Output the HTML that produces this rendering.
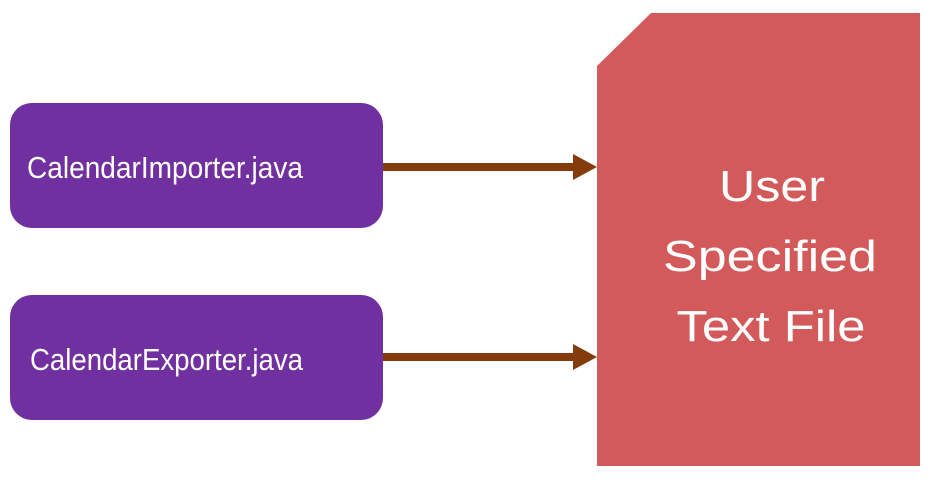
<!DOCTYPE html>
<html><head><style>html,body{margin:0;padding:0;background:#fff;}svg{display:block}</style></head>
<body>
<svg width="932" height="488" viewBox="0 0 932 488" xmlns="http://www.w3.org/2000/svg">
<rect x="10" y="103" width="373" height="125" rx="22" fill="#7030A0"/>
<rect x="10" y="295" width="373" height="125" rx="22" fill="#7030A0"/>
<polygon points="651,13 920,13 920,466 597,466 597,66" fill="#D35A5B"/>
<g fill="#843C0C">
<rect x="383" y="163" width="194" height="8"/>
<polygon points="573,154 597,167 573,180"/>
<rect x="383" y="353" width="194" height="8"/>
<polygon points="573,344 597,357 573,370"/>
</g>
<g font-family="'Liberation Sans', sans-serif" fill="#fff">
<text x="27" y="178" font-size="31" textLength="276" lengthAdjust="spacingAndGlyphs">CalendarImporter.java</text>
<text x="30" y="370" font-size="31" textLength="273" lengthAdjust="spacingAndGlyphs">CalendarExporter.java</text>
<g font-size="44" text-anchor="middle">
<text x="772" y="201" textLength="106" lengthAdjust="spacingAndGlyphs">User</text>
<text x="770" y="271" textLength="214" lengthAdjust="spacingAndGlyphs">Specified</text>
<text x="771" y="341" textLength="189" lengthAdjust="spacingAndGlyphs">Text File</text>
</g>
</g>
</svg>
</body></html>
